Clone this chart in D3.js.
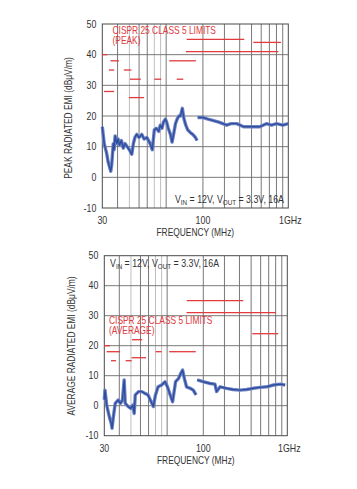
<!DOCTYPE html>
<html><head><meta charset="utf-8">
<script src="https://cdn.jsdelivr.net/npm/d3@7"></script>
<style>
html,body{margin:0;padding:0;background:#fff;}
svg{display:block;}
text{font-family:"Liberation Sans",Arial,sans-serif;}
</style></head>
<body><svg id="c" width="357" height="489"></svg>
<script>
// ---------- data ----------
const yTickValues = [-10, 0, 10, 20, 30, 40, 50];
const xGridValues = [40, 50, 60, 70, 80, 90, 100, 200, 300, 400, 500, 600, 700, 800, 900];
const xLightGrid = [50, 80, 90];
const xTickPositions = [30, 200, 1000];
const xTickLabels = ["30", "100", "1GHz"];

// peak trace (MHz, dBµV/m); null = gap in the trace
const peakFreq = [30,30.5,31.1,32.5,33.5,34.6,35.2,35.8,36.9,37.5,38.2,39.5,40.4,41.5,43,44.5,46,48,50,52.3,53.9,55.5,57.5,60,63.2,66,69.6,73.9,77,80,83,86.9,89.5,92.4,95,98.6,101,104,108.4,111.8,115,119.2,123,127.1,131,135.6,140,144.8,150,158.6,165,173.6,179,180,181,190,201,220,244,270,313,340,378,430,486,540,585,662,730,801,900,1000];
const peakVal  = [16.5,14,11,8,5,3,2,4,11,9,13.5,11,12.5,10.5,12,9.5,11,10,9,7.5,11,13,14,13,14,12.5,13,11,9,15.5,16,15,17,16,18,19,18,16,14,11.5,14,17.5,19,20,20,22.5,19,17,15.5,14.5,14,13,12,null,19.5,19.5,19.5,19,18.5,18,17,17.5,17.5,16.5,16.5,16.5,16.5,17.5,17,17.5,17,17.5];

// average trace
const avgFreq = [30,30.4,31.4,32.3,33.3,34.3,34.8,35.7,37,39.1,40.9,42.5,43.9,44.8,47.5,49.8,51.8,53.2,54.3,57.9,61.6,65.3,69.3,73.6,76.8,80,84.1,90,96.1,100.6,106,111,117.6,124.6,130,134.5,139,145,155.7,165,174,176,178,199,228,250,258,276,311,352,403,459,521,593,675,767,875,960];
const avgVal  = [2,5.2,0.2,-2,-4.2,-5.9,-7.5,-3.7,0.8,1.9,0.8,1.9,8.6,0.8,-0.3,-0.9,0.2,-2.6,3.6,4.7,4.7,4.1,3.6,1.3,-0.3,3.6,6.3,6.9,8,6.3,3.6,1.3,8,9.1,10.8,11.9,9.1,6.3,5.8,5.2,3.6,null,8.6,8,7.4,7.2,4.7,6.3,5.8,5.4,5.2,5.4,5.8,6.1,6.3,6.9,7.2,6.9];

// CISPR 25 class 5 limit segments
const peakLimStart = [30,35,34,45,50.5,80,122,31,49.5,106,147,145,517];
const peakLimEnd   = [33,41,37.5,52,62,91,138,37.5,66,175,436,830,870];
const peakLimLevel = [40,38,35,35,32,32,32,28,26,38,45,41,44];

const avgLimStart = [30,31.4,34.1,45.2,50.7,51,80.3,104,145.5,145,511];
const avgLimEnd   = [33.5,40.5,37.5,50.7,66.7,62,90,173,430,805,841];
const avgLimLevel = [20,18,15,15,16,22,18,18,35,31,24];

// ---------- drawing ----------
const svg = d3.select("#c");
const RED = "#e0393e", BLUE = "#2f4d9f", GRID = "#6a6a6a", LIGHT = "#b8b8b8", INK = "#333";
const SX = 0.84; // condensed lettering

function label(g, x, y, str, size, color, anchor, rot) {
  const t = g.append("text")
    .attr("transform", `translate(${x},${y}) rotate(${rot || 0}) scale(${SX},1)`)
    .attr("font-size", size).attr("fill", color).attr("text-anchor", anchor || "start");
  if (str !== null) t.text(str);
  return t;
}

function panel(o) {
  const x = d3.scaleLog().domain([30, 1000]).range([o.x0, o.x1]);
  const y = d3.scaleLinear().domain([-10, 50]).range([o.y1, o.y0]);
  const g = svg.append("g");

  g.selectAll(".vg").data(xGridValues).enter().append("line")
    .attr("x1", d => x(d)).attr("x2", d => x(d))
    .attr("y1", o.y0).attr("y2", o.y1)
    .attr("stroke", d => xLightGrid.includes(d) ? LIGHT : GRID)
    .attr("stroke-width", 0.9);
  g.selectAll(".hg").data(yTickValues.slice(1, -1)).enter().append("line")
    .attr("x1", o.x0).attr("x2", o.x1)
    .attr("y1", d => y(d)).attr("y2", d => y(d))
    .attr("stroke", GRID).attr("stroke-width", 0.9);
  g.append("rect").attr("x", o.x0).attr("y", o.y0)
    .attr("width", o.x1 - o.x0).attr("height", o.y1 - o.y0)
    .attr("fill", "none").attr("stroke", "#4a4a4a").attr("stroke-width", 1);

  g.selectAll(".lim").data(o.limLevel).enter().append("line")
    .attr("x1", (d, i) => x(o.limStart[i])).attr("x2", (d, i) => x(o.limEnd[i]))
    .attr("y1", d => y(d)).attr("y2", d => y(d))
    .attr("stroke", RED).attr("stroke-width", 1.3);

  const pts = o.freq.map((f, i) => [f, o.vals[i]]);
  const line = d3.line().defined(d => d[1] !== null)
    .x(d => x(d[0])).y(d => y(d[1]));
  g.append("path").datum(pts).attr("d", line).attr("fill", "none")
    .attr("stroke", "#6f84c4").attr("stroke-width", 3.4).attr("stroke-linejoin", "round");
  g.append("path").datum(pts).attr("d", line).attr("fill", "none")
    .attr("stroke", BLUE).attr("stroke-width", 1.4).attr("stroke-linejoin", "round");

  yTickValues.forEach(d => label(g, o.x0 - 6, y(d) + 3.6, d, 10.5, INK, "end"));
  xTickPositions.forEach((d, i) =>
    label(g, x(d) + (d === 1000 ? 2 : 0), o.y1 + 16, xTickLabels[i], 10.5, INK, "middle"));
  label(g, (o.x0 + o.x1) / 2, o.y1 + 28, "FREQUENCY (MHz)", 10, INK, "middle");
  label(g, o.titleX, o.titleY, o.yTitle, 10, INK, "middle", -90);

  label(g, o.limTextX, o.limTextY, "CISPR 25 CLASS 5 LIMITS", 10, RED, "start");
  label(g, o.limTextX, o.limTextY + 9.5, o.limSub, 10, RED, "start");

  const c = label(g, o.condX, o.condY, null, 10.5, INK, o.condAnchor);
  c.append("tspan").text("V");
  c.append("tspan").attr("font-size", 7.5).attr("dy", 2).text("IN");
  c.append("tspan").attr("dy", -2).text(" = 12V, V");
  c.append("tspan").attr("font-size", 7.5).attr("dy", 2).text("OUT");
  c.append("tspan").attr("dy", -2).text(" = 3.3V, 16A");
}

panel({
  x0: 102.3, x1: 288.3, y0: 24, y1: 208,
  freq: peakFreq, vals: peakVal,
  limStart: peakLimStart, limEnd: peakLimEnd, limLevel: peakLimLevel,
  yTitle: "PEAK RADIATED EMI (dBμV/m)", titleX: 72, titleY: 118,
  limTextX: 112.5, limTextY: 34, limSub: "(PEAK)",
  condX: 284, condY: 203, condAnchor: "end"
});
panel({
  x0: 104.3, x1: 287.3, y0: 255.7, y1: 435.7,
  freq: avgFreq, vals: avgVal,
  limStart: avgLimStart, limEnd: avgLimEnd, limLevel: avgLimLevel,
  yTitle: "AVERAGE RADIATED EMI (dBμV/m)", titleX: 75, titleY: 346,
  limTextX: 109, limTextY: 324, limSub: "(AVERAGE)",
  condX: 110, condY: 267, condAnchor: "start"
});
</script></body></html>
